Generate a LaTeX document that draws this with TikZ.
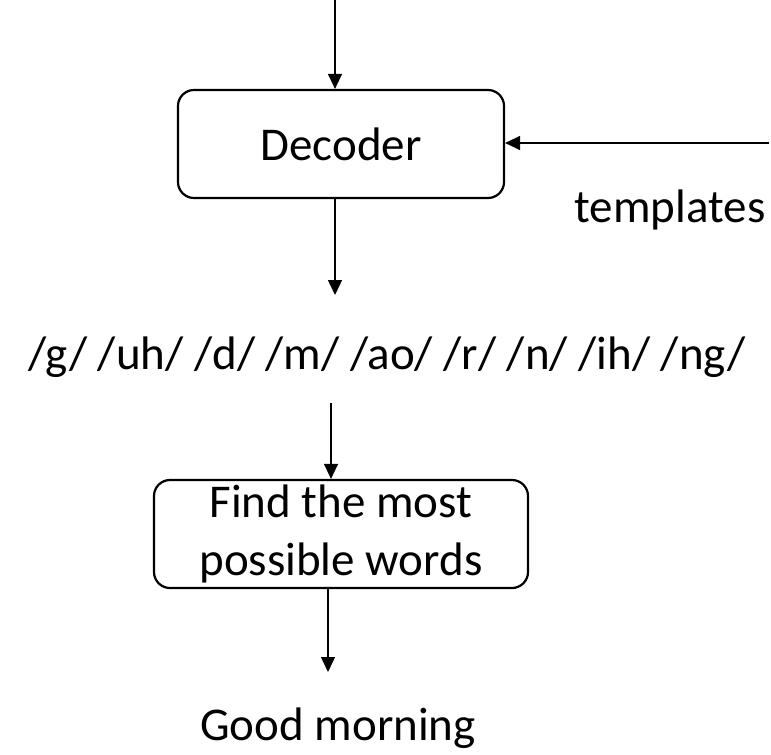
\documentclass[tikz,border=0pt]{standalone}
\usepackage{fontspec}
\setmainfont{Carlito}
\usetikzlibrary{arrows.meta}

\begin{document}
\begin{tikzpicture}[x=1bp,y=-1bp,
  font=\fontsize{47bp}{58bp}\selectfont,
  procbox/.style={draw, line width=2.2bp, rounded corners=16bp, inner sep=0pt,
    align=center},
  flow/.style={line width=1.3bp, -{Triangle[length=15bp,width=14bp]}},
  label/.style={inner sep=0pt, anchor=base}]
  % page frame
  \useasboundingbox (0,0) rectangle (771,755);

  % process boxes
  \node[procbox, minimum width=326bp, minimum height=108bp] (dec) at (341,144) {Decoder};
  \node[procbox, minimum width=374bp, minimum height=108bp] (find) at (341,534)
    {Find the most\\possible words};

  % plain text
  \node[label] (tpl) at (670,222) {templates};
  \node[label] (phon) at (387,369) {/g/ /uh/ /d/ /m/ /ao/ /r/ /n/ /ih/ /ng/};
  \node[label] (out) at (338,740) {Good morning};

  % free ends of the connectors
  \coordinate (src) at (335,0);
  \coordinate (tsrc) at (769,143);
  \coordinate (decend) at (335,295);
  \coordinate (phend) at (331,403);
  \coordinate (findend) at (328,672);

  % connectors
  \draw[flow] (src) -- (dec.north -| src);
  \draw[flow] (tsrc) -- (dec.east |- tsrc);
  \draw[flow] (dec.south -| decend) -- (decend);
  \draw[flow] (phend) -- (find.north -| phend);
  \draw[flow] (find.south -| findend) -- (findend);
\end{tikzpicture}
\end{document}
